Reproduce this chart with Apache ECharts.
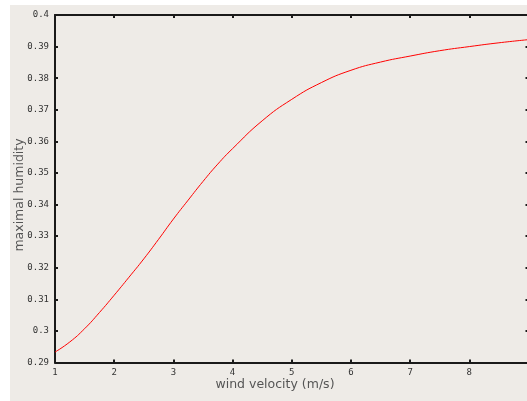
<!DOCTYPE html>
<html>
<head>
<meta charset="utf-8">
<script src="https://cdn.jsdelivr.net/npm/echarts@6/dist/echarts.min.js"></script>
<style>
html,body{margin:0;padding:0;background:#ffffff;overflow:hidden;width:527px;height:401px;}
#bg{position:absolute;left:10px;top:5px;width:517px;height:396px;background:#EEEBE7;}
#chart{position:absolute;left:0;top:0;width:560px;height:401px;}
</style>
</head>
<body>
<div id="bg"></div>
<div id="chart"></div>
<script>
const velocity = [1, 1.25, 1.5, 1.75, 2, 2.25, 2.5, 2.75, 3, 3.25, 3.5, 3.75, 4, 4.5, 5, 5.5, 6, 6.5, 7, 7.5, 8, 8.5, 9];
const humidity = [0.2933, 0.2965, 0.3007, 0.3058, 0.3113, 0.3170, 0.3228, 0.3290, 0.3354, 0.3414, 0.3473, 0.3528, 0.3577, 0.3665, 0.3733, 0.3786, 0.3825, 0.3851, 0.3870, 0.3887, 0.3900, 0.3912, 0.3922];
const xTitle = 'wind velocity (m/s)';
const yTitle = 'maximal humidity';

const chart = echarts.init(document.getElementById('chart'), null, {renderer: 'canvas'});
const tickFont = {fontFamily: 'DejaVu Sans Mono', fontSize: 9, color: '#333'};
const lineCol = '#1a1a1a';
const axisLine = {show: true, onZero: false, lineStyle: {color: lineCol, width: 2}};
const axisTick = {show: true, inside: true, length: 3, lineStyle: {color: lineCol, width: 2}};
chart.setOption({
  backgroundColor: 'transparent',
  animation: false,
  grid: {left: 55, top: 15, width: 473.5, height: 347.5},
  xAxis: [
    {type: 'value', position: 'bottom', min: 1, max: 9, interval: 1,
     axisLine: axisLine, axisTick: axisTick, splitLine: {show: false},
     axisLabel: Object.assign({margin: 6, formatter: v => v === 9 ? '' : String(v)}, tickFont)},
    {type: 'value', position: 'top', min: 1, max: 9, interval: 1,
     axisLine: axisLine, axisTick: axisTick, splitLine: {show: false}, axisLabel: {show: false}}
  ],
  yAxis: [
    {type: 'value', position: 'left', min: 0.29, max: 0.4, interval: 0.01,
     axisLine: axisLine, axisTick: axisTick, splitLine: {show: false},
     axisLabel: Object.assign({margin: 6, formatter: v => String(parseFloat(v.toFixed(2)))}, tickFont)},
    {type: 'value', position: 'right', min: 0.29, max: 0.4, interval: 0.01,
     axisLine: {show: false}, axisTick: axisTick, splitLine: {show: false}, axisLabel: {show: false}}
  ],
  graphic: [
    {type: 'text', x: 275, y: 385, style: {text: xTitle, x: 0, y: 0, align: 'center', verticalAlign: 'middle', font: '12.5px "DejaVu Sans"', fill: '#555'}},
    {type: 'text', rotation: Math.PI / 2, x: 19.5, y: 195, style: {text: yTitle, x: 0, y: 0, align: 'center', verticalAlign: 'middle', font: '12.5px "DejaVu Sans"', fill: '#555'}}
  ],
  series: [{
    type: 'line', xAxisIndex: 0, yAxisIndex: 0,
    data: velocity.map((v, i) => [v, humidity[i]]),
    smooth: true, showSymbol: false,
    lineStyle: {color: '#ff0000', width: 1}
  }]
});
</script>
</body>
</html>
